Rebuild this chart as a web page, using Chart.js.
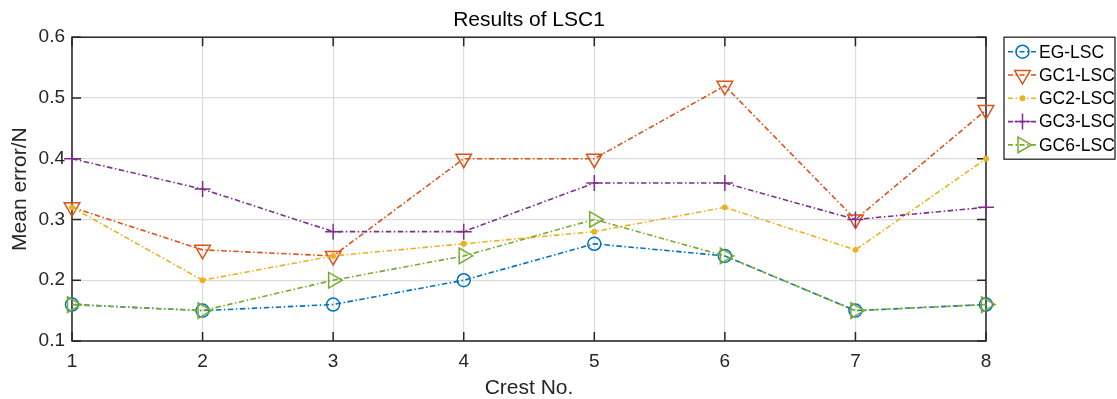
<!DOCTYPE html>
<html>
<head>
<meta charset="utf-8">
<script src="https://cdn.jsdelivr.net/npm/chart.js@4.4.0/dist/chart.umd.min.js"></script>
<style>
  html, body { margin: 0; padding: 0; background: #fff; }
  #wrap { width: 1117px; height: 399px; position: relative; }
</style>
</head>
<body>
<div id="wrap"><canvas id="grafico"></canvas></div>
<script>
// dados
let crestas = ['1', '2', '3', '4', '5', '6', '7', '8'];
let yMin = 0.1;
let yMax = 0.6;
let yPasso = 0.1;
let nomes = ['EG-LSC', 'GC1-LSC', 'GC2-LSC', 'GC3-LSC', 'GC6-LSC'];
let egLsc  = [0.16, 0.15, 0.16, 0.20, 0.26, 0.24, 0.15, 0.16];
let gc1Lsc = [0.32, 0.25, 0.24, 0.40, 0.40, 0.52, 0.30, 0.48];
let gc2Lsc = [0.32, 0.20, 0.24, 0.26, 0.28, 0.32, 0.25, 0.40];
let gc3Lsc = [0.40, 0.35, 0.28, 0.28, 0.36, 0.36, 0.30, 0.32];
let gc6Lsc = [0.16, 0.15, 0.20, 0.24, 0.30, 0.24, 0.15, 0.16];

const corEixo = '#262626';
const corGrade = '#dcdcdc';
const tracoPonto = [5.5, 2.5, 1.5, 2.5];

Chart.defaults.font.family = '"Liberation Sans", Arial, sans-serif';
Chart.defaults.color = corEixo;

function serie(i, valores, cor, estilo, raio, rot, preenchido) {
  return {
    label: nomes[i],
    data: valores,
    borderColor: cor,
    backgroundColor: cor,
    borderWidth: 1.6,
    borderDash: tracoPonto,
    tension: 0,
    fill: false,
    clip: false,
    order: -i,
    pointStyle: estilo,
    pointRadius: raio,
    pointRotation: rot,
    pointBorderColor: cor,
    pointBorderWidth: 1.5,
    pointBackgroundColor: preenchido ? cor : 'rgba(0,0,0,0)'
  };
}

// caixa do eixo e marcas internas (estilo matlab)
const caixaEixo = {
  id: 'caixaEixo',
  beforeDatasetsDraw(chart) {
    const ctx = chart.ctx;
    const a = chart.chartArea;
    const sx = chart.scales.x;
    const sy = chart.scales.y;
    const tam = 9;
    ctx.save();
    ctx.strokeStyle = corEixo;
    ctx.lineWidth = 1.5;
    ctx.beginPath();
    for (let i = 0; i < crestas.length; i++) {
      let px = sx.getPixelForValue(i);
      ctx.moveTo(px, a.bottom); ctx.lineTo(px, a.bottom - tam);
      ctx.moveTo(px, a.top); ctx.lineTo(px, a.top + tam);
    }
    for (let v = yMin; v <= yMax + 1e-9; v += yPasso) {
      let py = sy.getPixelForValue(v);
      ctx.moveTo(a.left, py); ctx.lineTo(a.left + tam, py);
      ctx.moveTo(a.right, py); ctx.lineTo(a.right - tam, py);
    }
    ctx.stroke();
    ctx.strokeRect(a.left, a.top, a.right - a.left, a.bottom - a.top);
    ctx.restore();
  }
};

// legenda com linha + marcador
const legendaLinhas = {
  id: 'legendaLinhas',
  afterDraw(chart) {
    const ctx = chart.ctx;
    const a = chart.chartArea;
    const x0 = a.right + 18;
    const y0 = a.top;
    const w = 111, h = 122;
    ctx.save();
    ctx.fillStyle = '#fff';
    ctx.fillRect(x0, y0, w, h);
    ctx.strokeStyle = corEixo;
    ctx.lineWidth = 1.3;
    ctx.strokeRect(x0, y0, w, h);
    chart.data.datasets.forEach((ds, i) => {
      let y = y0 + 14.5 + i * 23.3;
      ctx.strokeStyle = ds.borderColor;
      ctx.lineWidth = ds.borderWidth;
      ctx.setLineDash([5, 2.5, 1.5, 2.5]);
      ctx.beginPath();
      ctx.moveTo(x0 + 4, y);
      ctx.lineTo(x0 + 33, y);
      ctx.stroke();
      ctx.setLineDash([]);
      ctx.fillStyle = ds.pointBackgroundColor;
      ctx.lineWidth = ds.pointBorderWidth;
      Chart.helpers.drawPoint(ctx, {
        pointStyle: ds.pointStyle,
        rotation: ds.pointRotation,
        radius: ds.pointRadius,
        borderWidth: ds.pointBorderWidth
      }, x0 + 18.5, y);
      ctx.fillStyle = '#000';
      ctx.font = '17.5px "Liberation Sans", Arial, sans-serif';
      ctx.textAlign = 'left';
      ctx.textBaseline = 'middle';
      ctx.fillText(ds.label, x0 + 35, y + 1);
    });
    ctx.restore();
  }
};

new Chart(document.getElementById('grafico'), {
  type: 'line',
  data: {
    labels: crestas,
    datasets: [
      serie(0, egLsc, '#0072BD', 'circle', 6.5, 0, false),
      serie(1, gc1Lsc, '#D95319', 'triangle', 9, 180, false),
      serie(2, gc2Lsc, '#EDB120', 'circle', 2.2, 0, true),
      serie(3, gc3Lsc, '#7E2F8E', 'cross', 8, 0, false),
      serie(4, gc6Lsc, '#77AC30', 'triangle', 9, 90, false)
    ]
  },
  options: {
    responsive: true,
    maintainAspectRatio: false,
    animation: false,
    events: [],
    layout: { padding: { left: 0, right: 131, top: 0, bottom: 0 } },
    plugins: {
      legend: { display: false },
      tooltip: { enabled: false },
      title: {
        display: true,
        text: 'Results of LSC1',
        fullSize: false,
        color: '#000',
        font: { size: 21, weight: 'normal', lineHeight: 1.2 },
        padding: { top: 8, bottom: 4 }
      }
    },
    scales: {
      x: {
        type: 'category',
        offset: false,
        grid: { color: corGrade, drawTicks: false, lineWidth: 1.2 },
        border: { display: false },
        ticks: { font: { size: 19 }, color: corEixo, padding: 9, maxRotation: 0 },
        title: {
          display: true,
          text: 'Crest No.',
          color: corEixo,
          font: { size: 21, lineHeight: 1.0 },
          padding: { top: 0, bottom: 0 }
        },
        afterFit(s) { s.height = 58; }
      },
      y: {
        min: yMin,
        max: yMax,
        grid: { color: corGrade, drawTicks: false, lineWidth: 1.2 },
        border: { display: false },
        ticks: {
          stepSize: yPasso,
          font: { size: 19 },
          color: corEixo,
          padding: 7,
          callback: (v) => v.toFixed(1)
        },
        title: {
          display: true,
          text: 'Mean error/N',
          color: corEixo,
          font: { size: 21, lineHeight: 1.0 },
          padding: { top: 10, bottom: 0 }
        },
        afterFit(s) { s.width = 72; }
      }
    }
  },
  plugins: [caixaEixo, legendaLinhas]
});
</script>
</body>
</html>
